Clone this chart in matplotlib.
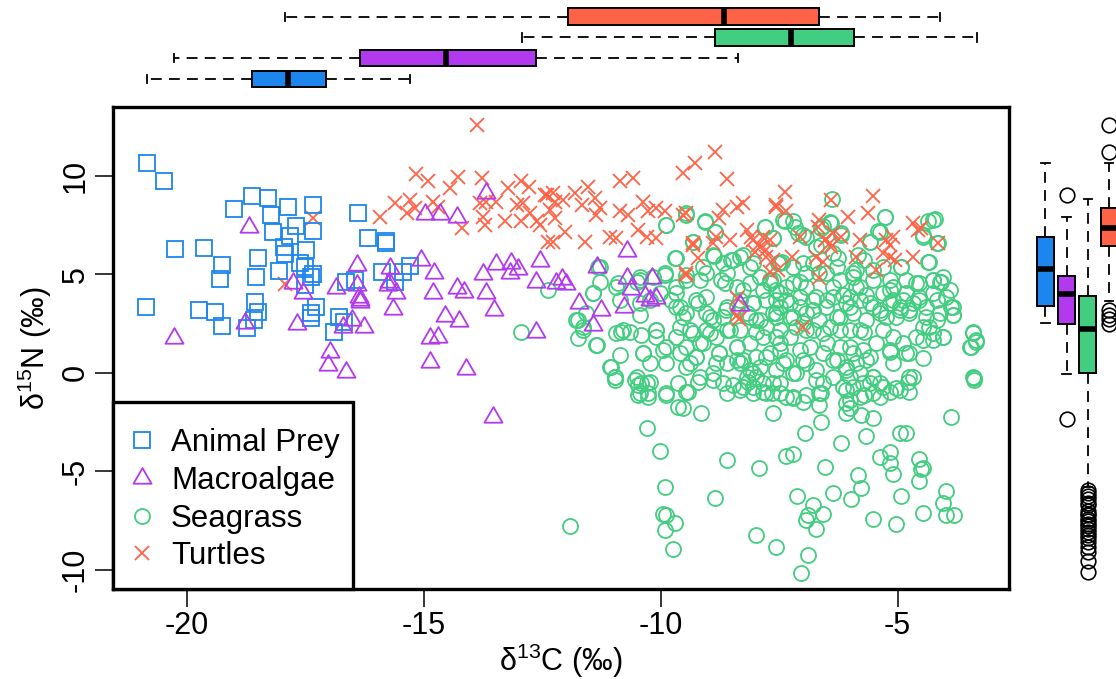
import numpy as np
import matplotlib
matplotlib.use('Agg')
import matplotlib.pyplot as plt
from matplotlib.path import Path
from matplotlib.patches import Rectangle

plt.rcParams['font.family'] = ['Liberation Sans', 'DejaVu Sans']
plt.rcParams['mathtext.fontset'] = 'custom'
plt.rcParams['mathtext.rm'] = 'Liberation Sans'
plt.rcParams['mathtext.default'] = 'regular'
plt.rcParams['axes.unicode_minus'] = False

groups = ['Animal Prey', 'Macroalgae', 'Seagrass', 'Turtles']
colors = ['#1C86EE', '#B23AEE', '#43CD80', '#FF6347']

# (d13C, d15N) pairs
prey = [(-20.84, 10.63), (-20.48, 9.70), (-20.25, 6.28), (-19.65, 6.31), (-20.86, 3.35),
        (-19.25, 5.47), (-19.30, 4.76), (-19.74, 3.18), (-19.40, 3.10), (-19.26, 2.39),
        (-19.00, 8.31), (-18.63, 8.97), (-18.29, 8.85), (-18.22, 8.01), (-17.86, 8.38),
        (-17.33, 8.51), (-18.18, 7.16), (-17.83, 6.94), (-17.69, 7.45), (-17.34, 7.19),
        (-17.96, 6.40), (-17.92, 6.03), (-17.48, 6.23), (-18.50, 5.84), (-18.54, 4.84),
        (-18.05, 5.16), (-17.62, 5.55), (-17.50, 5.38), (-17.33, 5.01), (-17.38, 4.87),
        (-17.50, 4.45), (-18.56, 3.57), (-18.50, 3.07), (-18.59, 2.68), (-18.73, 2.27),
        (-17.28, 3.35), (-17.39, 3.01), (-17.39, 2.76), (-16.39, 8.12), (-16.17, 6.82),
        (-15.80, 6.70), (-15.79, 6.57), (-15.88, 5.13), (-16.65, 4.62), (-16.45, 4.71),
        (-15.44, 5.10), (-15.30, 5.43), (-15.61, 4.62), (-16.79, 2.84), (-16.68, 2.58),
        (-16.90, 2.05)]

algae = [(-18.69, 7.41), (-20.28, 1.78), (-18.78, 2.51), (-17.77, 4.57), (-17.55, 4.06),
         (-17.68, 2.46), (-16.85, 4.28), (-16.41, 5.47), (-16.41, 4.45), (-16.34, 3.69),
         (-16.36, 3.85), (-16.97, 1.07), (-17.03, 0.39), (-16.65, 0.05), (-16.71, 2.34),
         (-16.27, 2.30), (-16.52, 2.68), (-14.98, 8.06), (-14.66, 8.06), (-14.31, 7.92),
         (-13.68, 9.14), (-15.72, 5.30), (-15.05, 5.72), (-14.79, 5.08), (-15.75, 4.45),
         (-15.73, 4.62), (-15.58, 4.03), (-16.35, 3.60), (-15.66, 3.22), (-14.80, 4.06),
         (-14.56, 2.88), (-14.26, 2.64), (-14.87, 1.75), (-14.70, 1.83), (-14.87, 0.56),
         (-14.10, 0.17), (-14.31, 4.28), (-14.16, 4.11), (-13.75, 4.99), (-13.68, 4.06),
         (-13.52, 3.18), (-13.47, 5.52), (-13.15, 5.55), (-13.19, 5.05), (-13.01, 5.25),
         (-12.54, 5.64), (-12.64, 4.62), (-12.64, 2.08), (-13.54, -2.25), (-12.20, 4.54),
         (-10.71, 6.19), (-11.34, 5.35), (-12.08, 4.76), (-12.00, 4.50), (-11.72, 3.52),
         (-11.27, 3.18), (-11.44, 2.42), (-10.72, 4.82), (-10.62, 4.23), (-10.18, 4.82),
         (-10.78, 3.35), (-10.34, 3.89), (-10.11, 3.78), (-10.23, 3.69), (-8.33, 3.44)]

turtles = [(-17.33, 7.84), (-17.92, 4.50), (-13.88, 12.57), (-15.17, 10.07), (-14.91, 9.70),
           (-14.28, 9.95), (-14.45, 9.36), (-13.78, 9.87), (-15.93, 7.92), (-15.61, 8.63),
           (-15.30, 8.77), (-15.36, 8.09), (-15.19, 8.35), (-14.80, 8.68), (-14.70, 8.43),
           (-14.20, 7.33), (-13.82, 8.60), (-13.68, 8.68), (-13.75, 7.92), (-13.71, 7.50),
           (-13.47, 8.68), (-13.29, 7.67), (-13.22, 9.36), (-12.94, 9.70), (-12.78, 9.44),
           (-13.04, 8.51), (-12.90, 8.60), (-12.76, 8.09), (-12.94, 7.67), (-12.62, 7.67),
           (-12.45, 9.02), (-12.34, 8.26), (-12.24, 8.68), (-12.38, 6.65), (-12.55, 7.50),
           (-8.85, 11.22), (-9.27, 10.63), (-9.54, 10.12), (-8.60, 9.82), (-10.86, 9.70),
           (-10.58, 9.87), (-11.53, 9.44), (-11.81, 9.11), (-12.27, 9.11), (-12.06, 8.77),
           (-11.67, 8.51), (-11.39, 8.85), (-11.29, 8.35), (-11.36, 8.01), (-10.86, 8.18),
           (-10.69, 8.01), (-10.37, 8.68), (-10.27, 8.18), (-10.09, 8.35), (-9.92, 8.18),
           (-10.48, 7.24), (-10.30, 6.90), (-10.09, 6.82), (-11.08, 6.90), (-10.94, 6.82),
           (-11.60, 6.65), (-12.03, 7.16), (-12.24, 7.84), (-12.27, 6.65), (-9.46, 8.09),
           (-8.68, 8.26), (-8.40, 8.43), (-8.26, 8.60), (-8.76, 7.84), (-8.83, 6.90),
           (-8.54, 6.74), (-8.19, 7.24), (-8.09, 6.90), (-7.95, 6.48), (-7.77, 6.23),
           (-7.84, 6.90), (-9.32, 6.48), (-9.21, 5.81), (-9.46, 4.96), (-7.56, 8.51),
           (-8.40, 2.93), (-8.35, 2.70), (-7.38, 9.19), (-7.56, 8.43), (-7.35, 8.18),
           (-6.40, 8.77), (-5.52, 8.94), (-6.05, 7.92), (-5.63, 8.09), (-6.65, 7.75),
           (-6.68, 7.41), (-7.07, 6.90), (-6.54, 6.74), (-6.40, 6.40), (-6.72, 5.89),
           (-6.58, 5.63), (-6.19, 6.90), (-5.80, 6.74), (-5.24, 6.74), (-5.17, 6.48),
           (-5.10, 6.90), (-5.31, 6.06), (-5.17, 5.89), (-5.06, 5.72), (-4.68, 7.58),
           (-4.50, 7.33), (-4.57, 7.24), (-4.15, 6.57), (-4.68, 5.89), (-5.87, 5.89),
           (-5.45, 5.21), (-6.65, 4.79), (-7.24, 5.89), (-7.70, 6.74), (-7.00, 2.34),
           (-7.70, 5.13), (-12.41, 9.02), (-9.46, 5.05), (-8.40, 3.78), (-8.90, 6.60),
           (-9.54, 8.00), (-9.32, 6.58), (-8.05, 6.74), (-7.91, 6.40), (-7.77, 5.89),
           (-8.02, 6.14), (-7.63, 5.72), (-7.53, 5.21), (-6.43, 6.57), (-6.37, 7.08),
           (-6.54, 6.74)]

seagrass = [
    # upper fringe
    (-6.39, 8.82), (-9.46, 8.00), (-9.88, 7.50), (-9.07, 7.67), (-8.86, 7.16), (-7.81, 7.41),
    (-7.38, 7.72), (-7.21, 7.72), (-6.58, 7.45), (-6.40, 7.61), (-6.19, 6.99), (-5.27, 7.92),
    (-5.41, 7.19), (-4.36, 7.67), (-4.22, 7.78), (-4.47, 6.99), (-7.00, 6.99), (-7.10, 7.11),
    (-6.72, 6.40), (-6.61, 6.48), (-7.63, 6.82), (-5.59, 6.65), (-4.15, 6.57),
    # 4-7 permil
    (-9.32, 6.65), (-9.70, 5.80), (-11.32, 5.38), (-11.29, 4.62), (-12.38, 4.20), (-8.90, 5.97),
    (-8.47, 5.72), (-8.33, 5.89), (-8.12, 5.38), (-7.91, 4.87), (-7.52, 5.55), (-7.45, 5.63),
    (-7.21, 5.38), (-6.93, 5.04), (-6.79, 5.55), (-6.51, 5.04), (-6.36, 6.06), (-6.26, 5.80),
    (-5.94, 5.04), (-5.84, 5.97), (-5.70, 5.72), (-5.52, 5.21), (-5.31, 5.38), (-4.92, 5.38),
    (-4.82, 4.70), (-4.36, 5.63), (-4.25, 4.70), (-4.11, 4.62), (-4.04, 4.87), (-10.44, 4.70),
    (-10.16, 4.87), (-9.92, 4.96), (-9.67, 4.37), (-9.46, 4.70), (-9.18, 4.70), (-9.04, 5.04),
    (-8.72, 4.70), (-8.61, 5.04), (-7.63, 4.70), (-7.35, 4.37), (-7.07, 4.62), (-6.22, 4.70),
    (-5.87, 4.37), (-5.17, 4.70), (-4.54, 4.53), (-10.51, 4.62),
    # 2-4 permil
    (-11.43, 4.03), (-11.78, 2.67), (-11.64, 2.34), (-11.57, 3.01), (-10.94, 4.37), (-10.87, 3.69),
    (-10.44, 3.52), (-10.23, 3.69), (-10.02, 4.03), (-9.78, 3.69), (-9.67, 3.35), (-9.46, 3.01),
    (-9.25, 3.69), (-9.04, 3.01), (-8.90, 2.67), (-8.69, 2.84), (-8.61, 3.35), (-8.33, 3.69),
    (-8.19, 3.01), (-8.05, 3.52), (-7.91, 2.67), (-7.77, 3.69), (-7.63, 3.01), (-7.49, 3.35),
    (-7.35, 3.69), (-7.21, 2.84), (-7.07, 3.35), (-6.93, 3.01), (-6.79, 3.69), (-6.65, 2.67),
    (-6.51, 3.35), (-6.36, 3.86), (-6.22, 2.84), (-6.08, 3.52), (-5.94, 3.01), (-5.80, 3.69),
    (-5.66, 2.67), (-5.52, 3.35), (-5.38, 3.01), (-5.10, 3.69), (-4.96, 3.35), (-4.82, 4.03),
    (-4.75, 3.01), (-4.54, 3.69), (-4.40, 3.35), (-4.25, 4.03), (-4.11, 3.01), (-3.83, 3.35),
    (-3.83, 2.93), (-5.17, 4.20), (-6.43, 2.34), (-6.01, 2.17), (-6.93, 2.17), (-7.49, 2.17),
    (-7.98, 2.08), (-8.33, 2.17), (-8.61, 2.17), (-9.04, 2.17), (-9.32, 2.00), (-9.60, 2.34),
    (-10.79, 2.17), (-10.94, 2.00), (-10.09, 2.17), (-12.95, 2.05),
    # -1.5-2 permil
    (-11.74, 1.74), (-11.36, 1.40), (-10.87, 0.90), (-11.04, 0.30), (-10.97, -0.20), (-10.41, 1.91),
    (-10.37, 0.98), (-10.23, 0.47), (-10.09, 1.83), (-9.88, 1.32), (-9.60, 0.98), (-9.46, 0.30),
    (-9.25, 0.81), (-9.18, 1.49), (-8.90, -0.03), (-8.76, 0.98), (-8.61, 0.47), (-8.40, 1.32),
    (-8.26, 0.64), (-8.19, -0.20), (-8.05, -0.71), (-7.91, 0.30), (-7.70, 0.98), (-7.49, 1.49),
    (-7.35, 0.64), (-7.21, -0.03), (-7.07, 1.15), (-6.93, 0.47), (-6.72, -0.37), (-6.58, 0.98),
    (-6.36, 0.64), (-6.22, 1.32), (-6.08, 0.30), (-5.94, 0.98), (-5.80, -0.03), (-5.66, 0.64),
    (-5.52, -0.20), (-5.31, -0.71), (-5.17, 1.15), (-5.10, 0.47), (-4.96, -0.88), (-4.82, 0.98),
    (-4.68, -0.20), (-4.47, 1.66), (-4.25, 2.00), (-4.04, 1.83), (-3.41, 2.08), (-3.34, 1.66),
    (-3.48, 1.32), (-3.41, -0.20), (-10.44, -1.05), (-9.88, -1.05), (-9.46, -0.96), (-8.61, -1.05),
    (-7.77, -1.05), (-7.21, -1.22), (-6.65, -1.05), (-6.08, -0.88), (-5.52, -1.05), (-10.51, -0.20),
    (-10.41, -0.54), (-10.27, -1.05), (-8.33, -0.88), (-8.05, -0.03), (-7.63, -0.54), (-7.49, -1.05),
    # dense core, western half
    (-9.89, 7.50), (-9.46, 8.09), (-9.07, 7.66), (-8.86, 7.16), (-9.68, 5.80), (-9.32, 6.65),
    (-9.47, 4.96), (-9.11, 5.38), (-8.87, 5.92), (-8.69, 5.55), (-8.51, 5.72), (-8.26, 5.97),
    (-8.05, 5.55), (-7.81, 7.41), (-7.63, 6.82), (-11.29, 5.38), (-11.43, 4.03), (-10.90, 4.53),
    (-10.44, 4.87), (-9.92, 5.04), (-11.74, 2.67), (-11.64, 2.17), (-11.34, 1.40), (-11.08, 0.30),
    (-10.97, -0.20), (-10.83, 2.08), (-10.65, 2.08), (-10.44, 2.93), (-10.37, 0.98), (-10.55, -0.37),
    (-10.30, -0.54), (-10.09, 2.17), (-9.95, 1.15), (-9.88, 0.47), (-9.67, 4.03), (-9.60, 3.35),
    (-9.53, 2.84), (-9.39, 2.17), (-9.46, 1.32), (-9.25, 0.81), (-9.21, 3.52), (-9.04, 3.86),
    (-8.97, 2.84), (-8.83, 1.83), (-8.76, 0.98), (-9.18, -0.20), (-8.65, 4.53), (-8.62, 3.18),
    (-8.54, 2.17), (-8.40, 1.32), (-8.33, 0.47), (-8.12, 0.14), (-8.26, 4.20), (-8.05, 3.52),
    (-7.98, 2.67), (-7.84, 1.83), (-7.77, 0.81), (-7.70, 4.70), (-7.56, 3.69), (-7.56, 2.84),
    (-8.69, -0.54), (-8.26, -0.71), (-7.84, -0.54), (-8.40, 4.37), (-8.12, 4.53), (-7.84, 4.20),
    (-8.40, 3.35), (-8.12, 2.84), (-7.77, 2.34), (-8.12, 1.49), (-8.40, 0.64), (-7.98, 0.81),
    (-8.97, 2.00), (-8.83, 0.47), (-9.11, 1.49), (-7.98, -0.20), (-7.56, 0.14), (-9.39, 0.47),
    (-9.67, 1.83),
    # dense core, eastern half
    (-7.42, 7.75), (-7.17, 7.41), (-6.93, 6.90), (-6.61, 7.33), (-6.43, 7.66), (-6.19, 7.07),
    (-5.27, 7.92), (-5.38, 7.16), (-5.59, 6.65), (-4.92, 5.38), (-4.33, 5.63), (-4.26, 7.75),
    (-4.18, 6.57), (-4.47, 6.90), (-7.49, 5.55), (-7.00, 5.55), (-6.65, 5.04), (-6.29, 5.38),
    (-5.94, 4.87), (-5.87, 5.21), (-5.52, 4.70), (-5.10, 4.37), (-4.61, 4.53), (-4.26, 4.70),
    (-4.08, 4.62), (-3.87, 3.35), (-3.83, 2.93), (-3.41, 2.00), (-3.34, 1.57), (-3.45, 1.32),
    (-3.38, -0.29), (-7.56, 4.20), (-7.28, 3.52), (-7.07, 3.86), (-6.79, 3.18), (-6.50, 3.69),
    (-6.29, 2.84), (-6.01, 3.86), (-6.01, 3.35), (-5.80, 2.17), (-5.70, 2.08), (-5.59, 3.52),
    (-5.38, 3.18), (-5.17, 3.52), (-4.89, 3.69), (-4.75, 3.18), (-5.03, 2.84), (-4.54, 3.86),
    (-4.40, 2.84), (-4.18, 3.69), (-4.33, 2.34), (-4.04, 1.83), (-4.26, 1.66), (-5.10, 1.83),
    (-4.75, 0.98), (-4.47, 0.73), (-5.17, 1.07), (-6.29, 0.64), (-6.08, 0.14), (-5.73, 1.15),
    (-6.01, -0.20), (-5.52, -0.20), (-5.38, -0.54), (-4.75, -0.20), (-7.00, 2.50), (-7.28, 1.83),
    (-6.86, 1.32), (-6.58, 2.00), (-7.42, 0.47), (-7.14, -0.03), (-6.58, -0.54), (-7.56, 3.01),
    (-7.70, 4.53), (-7.49, 4.03), (-7.21, 4.53), (-6.93, 4.37), (-6.72, 3.86), (-6.36, 4.37),
    (-6.15, 3.94), (-5.80, 4.37), (-5.66, 3.94), (-5.31, 4.03), (-5.24, 2.84), (-4.96, 3.18),
    (-4.68, 3.52), (-4.47, 2.34), (-4.18, 2.67), (-3.97, 3.86), (-3.90, 4.20), (-7.28, 2.84),
    (-7.14, 2.34), (-6.79, 2.17), (-6.50, 1.49), (-6.22, 2.17), (-6.01, 1.32), (-5.87, 0.47),
    (-5.59, 0.81), (-5.45, 1.49), (-5.31, 2.17), (-4.89, 1.49), (-4.61, 1.83), (-7.56, 1.83),
    (-7.49, 1.15), (-7.00, 0.64), (-6.72, 0.14), (-6.36, -0.20), (-5.73, -0.54),
    # lower tail
    (-10.97, -0.37), (-10.48, -0.62), (-10.48, -1.13), (-10.27, -1.22), (-9.88, -1.13), (-10.23, -0.46),
    (-9.63, -0.54), (-9.42, -0.96), (-9.21, -0.46), (-8.90, -0.37), (-8.47, -0.62), (-9.63, -1.72),
    (-9.53, -1.81), (-9.14, -2.03), (-8.16, -0.46), (-8.05, -1.05), (-7.84, -0.96), (-7.66, -1.05),
    (-7.49, -0.54), (-7.35, -1.22), (-7.21, -1.30), (-7.00, -1.47), (-6.93, -1.13), (-6.61, -1.05),
    (-6.65, -1.64), (-7.63, -2.06), (-6.15, -0.71), (-5.94, -0.71), (-6.08, -1.55), (-6.01, -1.81),
    (-6.08, -2.06), (-5.80, -1.22), (-5.70, -1.13), (-5.77, -2.15), (-5.52, -2.32), (-5.59, -0.54),
    (-5.38, -1.22), (-5.17, -0.96), (-5.03, -0.79), (-4.75, -0.96), (-4.78, -0.46), (-3.38, -0.37),
    (-6.61, -2.49), (-6.01, -1.39), (-10.30, -2.82), (-6.96, -3.04), (-4.96, -3.04), (-4.82, -3.04),
    (-3.87, -2.27), (-6.19, -3.59), (-5.66, -3.21), (-10.02, -3.97), (-8.61, -4.43), (-7.93, -4.82),
    (-7.35, -4.21), (-7.21, -4.13), (-6.54, -4.80), (-5.38, -4.26), (-5.17, -4.01), (-5.17, -4.60),
    (-5.10, -5.14), (-4.54, -4.38), (-4.47, -4.85), (-4.50, -4.90), (-4.54, -5.50), (-5.84, -5.19),
    (-5.77, -5.87), (-5.98, -6.41), (-6.36, -6.12), (-7.12, -6.26), (-6.79, -6.72), (-6.89, -7.22),
    (-6.93, -7.48), (-6.58, -7.17), (-6.72, -7.93), (-3.97, -5.99), (-4.04, -6.63), (-3.97, -7.22),
    (-3.82, -7.22), (-4.47, -7.14), (-5.52, -7.44), (-5.04, -7.68), (-4.92, -6.26), (-9.90, -5.78),
    (-8.86, -6.38), (-9.95, -7.17), (-9.88, -7.22), (-9.70, -7.65), (-9.92, -7.98), (-9.74, -8.95),
    (-11.92, -7.77), (-8.00, -8.24), (-7.56, -8.83), (-6.89, -9.25), (-7.03, -10.15)]

# box statistics: whislo, q1, med, q3, whishi
c13_box = [[-20.85, -18.63, -17.86, -17.07, -15.30],
           [-20.28, -16.35, -14.53, -12.63, -8.36],
           [-12.92, -8.85, -7.25, -5.93, -3.33],
           [-17.94, -11.95, -8.66, -6.67, -4.11]]
n15_box = [[2.52, 3.39, 5.26, 6.89, 10.64],
           [-0.07, 2.47, 3.99, 4.91, 7.90],
           [-5.80, -0.02, 2.22, 3.89, 8.82],
           [3.64, 6.43, 7.35, 8.36, 10.64]]
n15_fliers = [[],
              [9.02, -2.37],
              [-5.95, -6.12, -6.26, -6.40, -6.63, -6.72, -7.00, -7.17, -7.22, -7.44, -7.55,
               -7.68, -7.80, -7.95, -8.10, -8.24, -8.40, -8.60, -8.83, -9.10, -9.56, -10.11],
              [12.57, 11.22, 3.20, 2.95, 2.70, 2.45]]

tri = Path([(0, 1), (-0.866, -0.5), (0.866, -0.5), (0, 1)], closed=True)
markers = ['s', tri, 'o', 'x']
sizes = [11.3, 15, 10.8, 9.6]
series = [prey, algae, seagrass, turtles]

W, H = 1116, 679


def px_box(l, t, r, b):
    return [l / W, 1 - b / H, (r - l) / W, (b - t) / H]


fig = plt.figure(figsize=(W / 100, H / 100), dpi=100)
ax = fig.add_axes(px_box(113, 107, 1009, 589))
ax_top = fig.add_axes(px_box(113, 0, 1009, 98))
ax_right = fig.add_axes(px_box(1024, 107, 1116, 589))

for idx in [2, 3, 0, 1]:
    pts = np.array(series[idx])
    ax.plot(pts[:, 0], pts[:, 1], linestyle='none', marker=markers[idx],
            ms=sizes[idx], mfc='none', mec=colors[idx], mew=1.3)

ax.set_xlim(-21.56, -2.65)
ax.set_ylim(-10.98, 13.48)
ax.set_xticks([-20, -15, -10, -5])
ax.set_yticks([-10, -5, 0, 5, 10])
ax.tick_params(length=13, width=1.1, labelsize=22, pad=3)
for lab in ax.get_yticklabels():
    lab.set_rotation(90)
    lab.set_va('center')
for sp in ax.spines.values():
    sp.set_linewidth(2.4)
ax.set_xlabel('δ$^{13}$C (‰)', fontsize=22, labelpad=0)
ax.set_ylabel('δ$^{15}$N (‰)', fontsize=22, labelpad=5)

# legend box in the lower left corner
ax.add_patch(Rectangle((0, 0), 0.268, 0.388, transform=ax.transAxes, fc='white',
                       ec='black', lw=2.4, zorder=5, clip_on=False))
rows = [0.309, 0.231, 0.1515, 0.0745]
for i, g in enumerate(groups):
    ax.plot([0.0324], [rows[i]], transform=ax.transAxes, linestyle='none',
            marker=markers[i], ms=sizes[i], mfc='none', mec=colors[i], mew=1.3,
            zorder=6, clip_on=False)
    ax.text(0.0647, rows[i] - 0.0228, g, transform=ax.transAxes, fontsize=22.5,
            va='baseline', ha='left', zorder=6)

box_kw = dict(widths=0.8, patch_artist=True, capwidths=0.4,
              whiskerprops=dict(color='black', lw=1.3, linestyle=(0, (6, 4))),
              capprops=dict(color='black', lw=1.3),
              medianprops=dict(color='black', lw=4, solid_capstyle='butt'),
              flierprops=dict(marker='o', mfc='none', mec='black', ms=10.5, mew=1.2,
                              linestyle='none'))


def make_stats(vals, fliers):
    out = []
    for v, f in zip(vals, fliers):
        out.append(dict(whislo=v[0], q1=v[1], med=v[2], q3=v[3], whishi=v[4], fliers=f))
    return out


top = ax_top.bxp(make_stats(c13_box, [[]] * 4), positions=[1, 2, 3, 4],
                 orientation='horizontal', **box_kw)
right = ax_right.bxp(make_stats(n15_box, n15_fliers), positions=[1, 2, 3, 4],
                     orientation='vertical', **box_kw)
for res in (top, right):
    for patch, c in zip(res['boxes'], colors):
        patch.set_facecolor(c)
        patch.set_edgecolor('black')
        patch.set_linewidth(1.4)

ax_top.set_xlim(ax.get_xlim())
ax_top.set_ylim(0.07, 4.81)
ax_top.axis('off')
ax_right.set_ylim(ax.get_ylim())
ax_right.set_xlim(0.0, 4.32)
ax_right.axis('off')

fig.savefig('out.png', dpi=100)
